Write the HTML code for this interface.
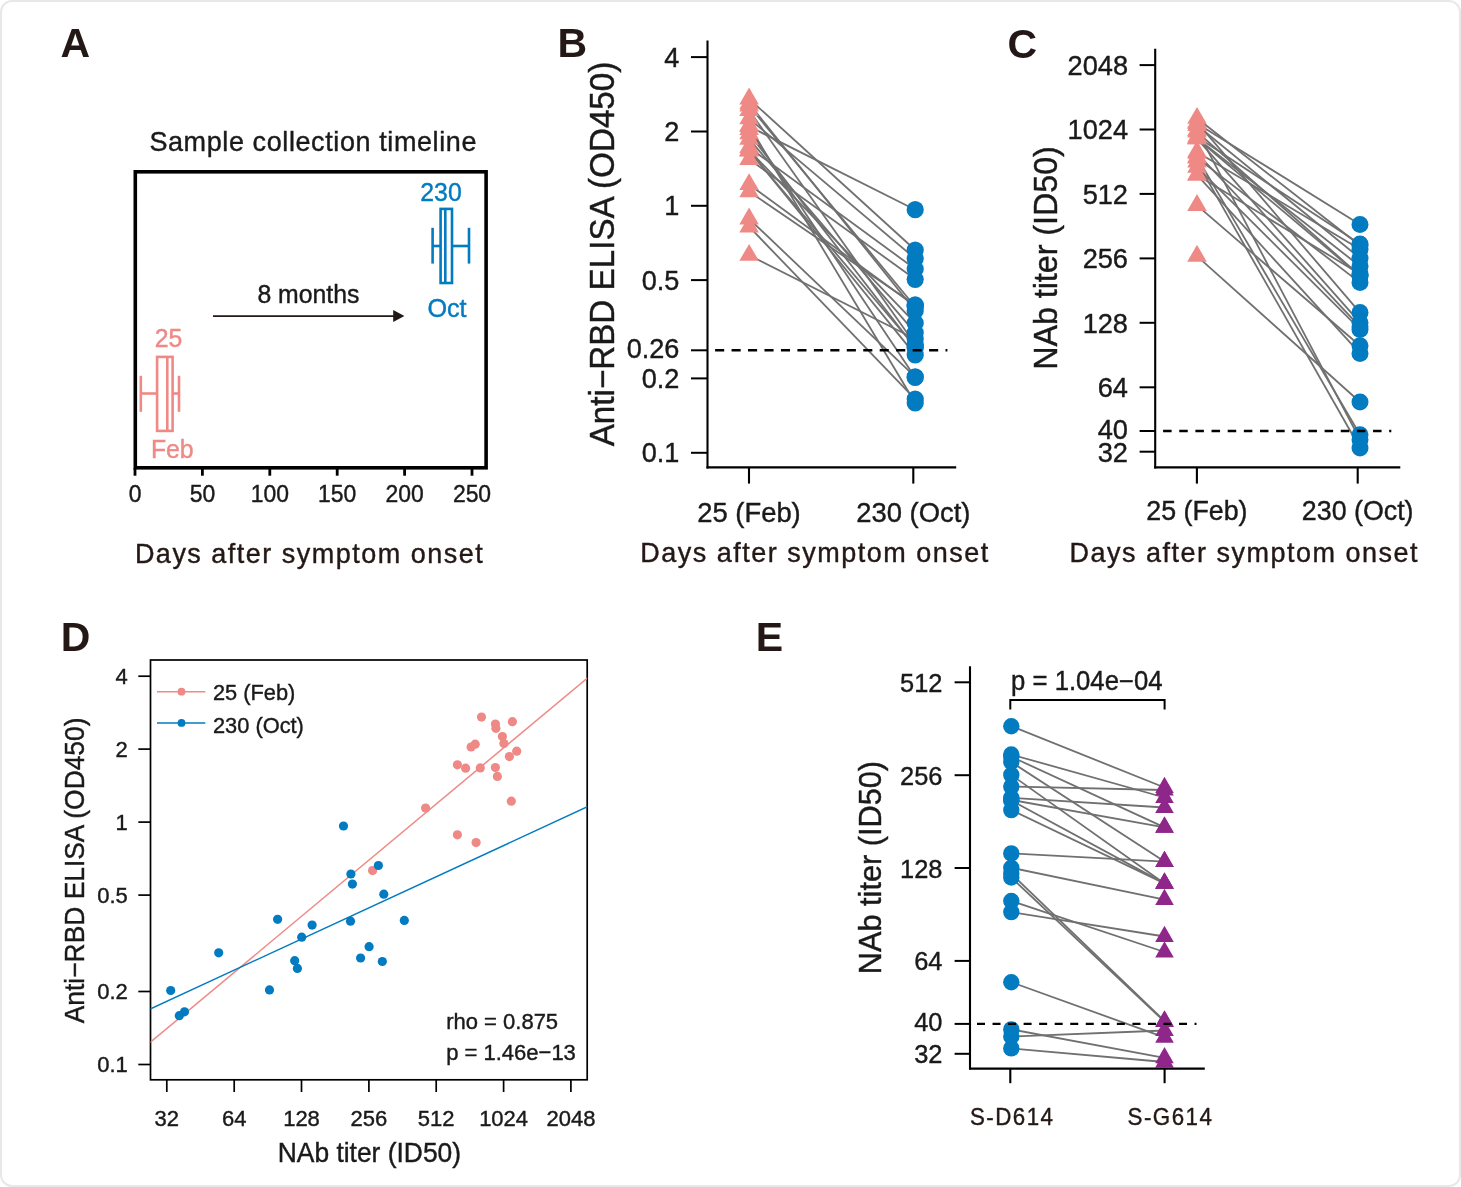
<!DOCTYPE html>
<html><head><meta charset="utf-8"><title>Figure</title>
<style>
html,body{margin:0;padding:0;background:#fff;}
svg{display:block;font-family:"Liberation Sans",sans-serif;}
</style></head><body>
<svg width="1461" height="1187" viewBox="0 0 1461 1187">
<rect x="1" y="1" width="1459" height="1185" rx="11" ry="11" fill="#fff" stroke="#e8e8e8" stroke-width="2"/>
<text transform="translate(60.6,56.9) scale(1,1.0)" font-size="41" font-weight="bold" fill="#231815">A</text>
<text transform="translate(557.6,56.8) scale(1,1.0)" font-size="41" font-weight="bold" fill="#231815">B</text>
<text transform="translate(1007.6,57.6) scale(1,1.0)" font-size="41" font-weight="bold" fill="#231815">C</text>
<text transform="translate(60.8,651.0) scale(1,1.0)" font-size="41" font-weight="bold" fill="#231815">D</text>
<text transform="translate(755.8,651.0) scale(1,1.0)" font-size="41" font-weight="bold" fill="#231815">E</text>
<rect x="135.3" y="171.8" width="350.8" height="296" fill="none" stroke="#000" stroke-width="3.6"/>
<line x1="135.0" y1="468.0" x2="135.0" y2="475.7" stroke="#000" stroke-width="2.8"/>
<text transform="translate(135.0,501.5) scale(1,1.04)" font-size="22.9" text-anchor="middle" fill="#1a1a1a" stroke="#1a1a1a" stroke-width="0.4">0</text>
<line x1="202.4" y1="468.0" x2="202.4" y2="475.7" stroke="#000" stroke-width="2.8"/>
<text transform="translate(202.4,501.5) scale(1,1.04)" font-size="22.9" text-anchor="middle" fill="#1a1a1a" stroke="#1a1a1a" stroke-width="0.4">50</text>
<line x1="269.8" y1="468.0" x2="269.8" y2="475.7" stroke="#000" stroke-width="2.8"/>
<text transform="translate(269.8,501.5) scale(1,1.04)" font-size="22.9" text-anchor="middle" fill="#1a1a1a" stroke="#1a1a1a" stroke-width="0.4">100</text>
<line x1="337.2" y1="468.0" x2="337.2" y2="475.7" stroke="#000" stroke-width="2.8"/>
<text transform="translate(337.2,501.5) scale(1,1.04)" font-size="22.9" text-anchor="middle" fill="#1a1a1a" stroke="#1a1a1a" stroke-width="0.4">150</text>
<line x1="404.6" y1="468.0" x2="404.6" y2="475.7" stroke="#000" stroke-width="2.8"/>
<text transform="translate(404.6,501.5) scale(1,1.04)" font-size="22.9" text-anchor="middle" fill="#1a1a1a" stroke="#1a1a1a" stroke-width="0.4">200</text>
<line x1="472.0" y1="468.0" x2="472.0" y2="475.7" stroke="#000" stroke-width="2.8"/>
<text transform="translate(472.0,501.5) scale(1,1.04)" font-size="22.9" text-anchor="middle" fill="#1a1a1a" stroke="#1a1a1a" stroke-width="0.4">250</text>
<text transform="translate(313.2,151.0) scale(1,1.04)" font-size="27" text-anchor="middle" letter-spacing="0.6" fill="#1a1a1a" stroke="#1a1a1a" stroke-width="0.4">Sample collection timeline</text>
<text transform="translate(309.6,562.8) scale(1,1.04)" font-size="27" text-anchor="middle" letter-spacing="1.5" fill="#231815" stroke="#231815" stroke-width="0.4">Days after symptom onset</text>
<g stroke="#027BC1" stroke-width="2.6" fill="none">
<rect x="440.6" y="208.9" width="11.4" height="74.1"/>
<line x1="445.3" y1="208.9" x2="445.3" y2="283"/>
<line x1="432.6" y1="227.8" x2="432.6" y2="263.6"/><line x1="469" y1="227.8" x2="469" y2="263.6"/>
<line x1="432.6" y1="246" x2="440.6" y2="246"/><line x1="452" y1="246" x2="469" y2="246"/>
</g>
<text transform="translate(441.0,201.0) scale(1,1.04)" font-size="24.8" text-anchor="middle" fill="#027BC1" stroke="#027BC1" stroke-width="0.4">230</text>
<text transform="translate(447.0,317.0) scale(1,1.04)" font-size="25.2" text-anchor="middle" fill="#027BC1" stroke="#027BC1" stroke-width="0.4">Oct</text>
<g stroke="#EF8985" stroke-width="2.6" fill="none">
<rect x="157.1" y="356.9" width="15.5" height="74"/>
<line x1="167.3" y1="356.9" x2="167.3" y2="431"/>
<line x1="140.8" y1="375.8" x2="140.8" y2="411.8"/><line x1="179" y1="375.8" x2="179" y2="411.8"/>
<line x1="140.8" y1="393.5" x2="157.1" y2="393.5"/><line x1="172.6" y1="393.5" x2="179" y2="393.5"/>
</g>
<text transform="translate(168.5,347.0) scale(1,1.04)" font-size="24.8" text-anchor="middle" fill="#EF8985" stroke="#EF8985" stroke-width="0.4">25</text>
<text transform="translate(172.3,457.7) scale(1,1.04)" font-size="24.8" text-anchor="middle" fill="#EF8985" stroke="#EF8985" stroke-width="0.4">Feb</text>
<line x1="213.0" y1="316.1" x2="396.0" y2="316.1" stroke="#231815" stroke-width="1.9"/>
<polygon points="404.4,316.1 393.2,310.1 393.2,322.1" fill="#231815"/>
<text transform="translate(308.4,302.6) scale(1,1.04)" font-size="24.8" text-anchor="middle" fill="#1a1a1a" stroke="#1a1a1a" stroke-width="0.4">8 months</text>
<line x1="707.5" y1="40.6" x2="707.5" y2="468.4" stroke="#000" stroke-width="2.1"/>
<line x1="706.5" y1="467.4" x2="956.2" y2="467.4" stroke="#000" stroke-width="2.1"/>
<line x1="691.0" y1="57.1" x2="707.5" y2="57.1" stroke="#000" stroke-width="2.0"/>
<text transform="translate(679.4,66.7) scale(1,1.04)" font-size="27.1" text-anchor="end" fill="#1a1a1a" stroke="#1a1a1a" stroke-width="0.4">4</text>
<line x1="691.0" y1="131.5" x2="707.5" y2="131.5" stroke="#000" stroke-width="2.0"/>
<text transform="translate(679.4,141.1) scale(1,1.04)" font-size="27.1" text-anchor="end" fill="#1a1a1a" stroke="#1a1a1a" stroke-width="0.4">2</text>
<line x1="691.0" y1="205.8" x2="707.5" y2="205.8" stroke="#000" stroke-width="2.0"/>
<text transform="translate(679.4,215.4) scale(1,1.04)" font-size="27.1" text-anchor="end" fill="#1a1a1a" stroke="#1a1a1a" stroke-width="0.4">1</text>
<line x1="691.0" y1="280.1" x2="707.5" y2="280.1" stroke="#000" stroke-width="2.0"/>
<text transform="translate(679.4,289.8) scale(1,1.04)" font-size="27.1" text-anchor="end" fill="#1a1a1a" stroke="#1a1a1a" stroke-width="0.4">0.5</text>
<line x1="691.0" y1="350.3" x2="707.5" y2="350.3" stroke="#000" stroke-width="2.0"/>
<text transform="translate(679.4,357.5) scale(1,1.04)" font-size="27.1" text-anchor="end" fill="#1a1a1a" stroke="#1a1a1a" stroke-width="0.4">0.26</text>
<line x1="691.0" y1="378.4" x2="707.5" y2="378.4" stroke="#000" stroke-width="2.0"/>
<text transform="translate(679.4,388.0) scale(1,1.04)" font-size="27.1" text-anchor="end" fill="#1a1a1a" stroke="#1a1a1a" stroke-width="0.4">0.2</text>
<line x1="691.0" y1="452.8" x2="707.5" y2="452.8" stroke="#000" stroke-width="2.0"/>
<text transform="translate(679.4,462.4) scale(1,1.04)" font-size="27.1" text-anchor="end" fill="#1a1a1a" stroke="#1a1a1a" stroke-width="0.4">0.1</text>
<line x1="749.0" y1="467.4" x2="749.0" y2="483.6" stroke="#000" stroke-width="2.1"/>
<text transform="translate(749.0,521.5) scale(1,1.04)" font-size="27.4" text-anchor="middle" fill="#1a1a1a" stroke="#1a1a1a" stroke-width="0.4">25 (Feb)</text>
<line x1="913.3" y1="467.4" x2="913.3" y2="483.6" stroke="#000" stroke-width="2.1"/>
<text transform="translate(913.3,521.5) scale(1,1.04)" font-size="27.4" text-anchor="middle" fill="#1a1a1a" stroke="#1a1a1a" stroke-width="0.4">230 (Oct)</text>
<text transform="translate(815.0,562.2) scale(1,1.04)" font-size="27" text-anchor="middle" letter-spacing="1.5" fill="#231815" stroke="#231815" stroke-width="0.4">Days after symptom onset</text>
<text transform="translate(614.2,254.0) rotate(-90) scale(1,1.04)" font-size="33.2" text-anchor="middle" fill="#1a1a1a" stroke="#1a1a1a" stroke-width="0.4">Anti−RBD ELISA (OD450)</text>
<line x1="749.1" y1="98.8" x2="915.2" y2="250.0" stroke="#707070" stroke-width="1.8"/>
<line x1="749.1" y1="105.9" x2="915.2" y2="306.8" stroke="#707070" stroke-width="1.8"/>
<line x1="749.1" y1="110.3" x2="915.2" y2="344.3" stroke="#707070" stroke-width="1.8"/>
<line x1="749.1" y1="103.5" x2="915.2" y2="310.7" stroke="#707070" stroke-width="1.8"/>
<line x1="749.1" y1="118.5" x2="915.2" y2="258.6" stroke="#707070" stroke-width="1.8"/>
<line x1="749.1" y1="125.7" x2="915.2" y2="403.0" stroke="#707070" stroke-width="1.8"/>
<line x1="749.1" y1="126.4" x2="915.2" y2="209.7" stroke="#707070" stroke-width="1.8"/>
<line x1="749.1" y1="129.2" x2="915.2" y2="377.4" stroke="#707070" stroke-width="1.8"/>
<line x1="749.1" y1="133.6" x2="915.2" y2="347.8" stroke="#707070" stroke-width="1.8"/>
<line x1="749.1" y1="139.1" x2="915.2" y2="332.8" stroke="#707070" stroke-width="1.8"/>
<line x1="749.1" y1="147.4" x2="915.2" y2="269.0" stroke="#707070" stroke-width="1.8"/>
<line x1="749.1" y1="150.9" x2="915.2" y2="347.0" stroke="#707070" stroke-width="1.8"/>
<line x1="749.1" y1="150.5" x2="915.2" y2="354.9" stroke="#707070" stroke-width="1.8"/>
<line x1="749.1" y1="150.2" x2="915.2" y2="323.1" stroke="#707070" stroke-width="1.8"/>
<line x1="749.1" y1="159.2" x2="915.2" y2="279.3" stroke="#707070" stroke-width="1.8"/>
<line x1="749.1" y1="184.5" x2="915.2" y2="306.0" stroke="#707070" stroke-width="1.8"/>
<line x1="749.1" y1="191.6" x2="915.2" y2="304.9" stroke="#707070" stroke-width="1.8"/>
<line x1="749.1" y1="218.8" x2="915.2" y2="376.8" stroke="#707070" stroke-width="1.8"/>
<line x1="749.1" y1="226.7" x2="915.2" y2="399.1" stroke="#707070" stroke-width="1.8"/>
<line x1="749.1" y1="255.2" x2="915.2" y2="339.0" stroke="#707070" stroke-width="1.8"/>
<polygon points="749.1,87.5 739.3,104.4 758.9,104.4" fill="#EF8985"/>
<polygon points="749.1,94.6 739.3,111.6 758.9,111.6" fill="#EF8985"/>
<polygon points="749.1,98.9 739.3,115.9 758.9,115.9" fill="#EF8985"/>
<polygon points="749.1,92.2 739.3,109.2 758.9,109.2" fill="#EF8985"/>
<polygon points="749.1,107.2 739.3,124.2 758.9,124.2" fill="#EF8985"/>
<polygon points="749.1,114.3 739.3,131.3 758.9,131.3" fill="#EF8985"/>
<polygon points="749.1,115.1 739.3,132.1 758.9,132.1" fill="#EF8985"/>
<polygon points="749.1,117.9 739.3,134.9 758.9,134.9" fill="#EF8985"/>
<polygon points="749.1,122.2 739.3,139.2 758.9,139.2" fill="#EF8985"/>
<polygon points="749.1,127.7 739.3,144.7 758.9,144.7" fill="#EF8985"/>
<polygon points="749.1,136.1 739.3,153.0 758.9,153.0" fill="#EF8985"/>
<polygon points="749.1,139.6 739.3,156.6 758.9,156.6" fill="#EF8985"/>
<polygon points="749.1,139.2 739.3,156.2 758.9,156.2" fill="#EF8985"/>
<polygon points="749.1,138.8 739.3,155.8 758.9,155.8" fill="#EF8985"/>
<polygon points="749.1,147.9 739.3,164.9 758.9,164.9" fill="#EF8985"/>
<polygon points="749.1,173.2 739.3,190.1 758.9,190.1" fill="#EF8985"/>
<polygon points="749.1,180.2 739.3,197.2 758.9,197.2" fill="#EF8985"/>
<polygon points="749.1,207.5 739.3,224.4 758.9,224.4" fill="#EF8985"/>
<polygon points="749.1,215.4 739.3,232.4 758.9,232.4" fill="#EF8985"/>
<polygon points="749.1,243.9 739.3,260.8 758.9,260.8" fill="#EF8985"/>
<circle cx="915.2" cy="209.7" r="8.6" fill="#027BC1"/>
<circle cx="915.2" cy="250.0" r="8.6" fill="#027BC1"/>
<circle cx="915.2" cy="258.6" r="8.6" fill="#027BC1"/>
<circle cx="915.2" cy="269.0" r="8.6" fill="#027BC1"/>
<circle cx="915.2" cy="279.3" r="8.6" fill="#027BC1"/>
<circle cx="915.2" cy="304.9" r="8.6" fill="#027BC1"/>
<circle cx="915.2" cy="306.8" r="8.6" fill="#027BC1"/>
<circle cx="915.2" cy="306.0" r="8.6" fill="#027BC1"/>
<circle cx="915.2" cy="310.7" r="8.6" fill="#027BC1"/>
<circle cx="915.2" cy="323.1" r="8.6" fill="#027BC1"/>
<circle cx="915.2" cy="332.8" r="8.6" fill="#027BC1"/>
<circle cx="915.2" cy="344.3" r="8.6" fill="#027BC1"/>
<circle cx="915.2" cy="347.8" r="8.6" fill="#027BC1"/>
<circle cx="915.2" cy="339.0" r="8.6" fill="#027BC1"/>
<circle cx="915.2" cy="347.0" r="8.6" fill="#027BC1"/>
<circle cx="915.2" cy="354.9" r="8.6" fill="#027BC1"/>
<circle cx="915.2" cy="376.8" r="8.6" fill="#027BC1"/>
<circle cx="915.2" cy="377.4" r="8.6" fill="#027BC1"/>
<circle cx="915.2" cy="399.1" r="8.6" fill="#027BC1"/>
<circle cx="915.2" cy="403.0" r="8.6" fill="#027BC1"/>
<line x1="715.1" y1="350.3" x2="947.4" y2="350.3" stroke="#000" stroke-width="2.4" stroke-dasharray="9.1,7.36"/>
<line x1="1155.2" y1="48.8" x2="1155.2" y2="468.4" stroke="#000" stroke-width="2.1"/>
<line x1="1154.2" y1="467.4" x2="1400.3" y2="467.4" stroke="#000" stroke-width="2.1"/>
<line x1="1139.6" y1="65.1" x2="1155.2" y2="65.1" stroke="#000" stroke-width="2.0"/>
<text transform="translate(1128.0,74.9) scale(1,1.04)" font-size="27.2" text-anchor="end" fill="#1a1a1a" stroke="#1a1a1a" stroke-width="0.4">2048</text>
<line x1="1139.6" y1="129.5" x2="1155.2" y2="129.5" stroke="#000" stroke-width="2.0"/>
<text transform="translate(1128.0,139.3) scale(1,1.04)" font-size="27.2" text-anchor="end" fill="#1a1a1a" stroke="#1a1a1a" stroke-width="0.4">1024</text>
<line x1="1139.6" y1="193.9" x2="1155.2" y2="193.9" stroke="#000" stroke-width="2.0"/>
<text transform="translate(1128.0,203.7) scale(1,1.04)" font-size="27.2" text-anchor="end" fill="#1a1a1a" stroke="#1a1a1a" stroke-width="0.4">512</text>
<line x1="1139.6" y1="258.4" x2="1155.2" y2="258.4" stroke="#000" stroke-width="2.0"/>
<text transform="translate(1128.0,268.2) scale(1,1.04)" font-size="27.2" text-anchor="end" fill="#1a1a1a" stroke="#1a1a1a" stroke-width="0.4">256</text>
<line x1="1139.6" y1="322.8" x2="1155.2" y2="322.8" stroke="#000" stroke-width="2.0"/>
<text transform="translate(1128.0,332.6) scale(1,1.04)" font-size="27.2" text-anchor="end" fill="#1a1a1a" stroke="#1a1a1a" stroke-width="0.4">128</text>
<line x1="1139.6" y1="387.3" x2="1155.2" y2="387.3" stroke="#000" stroke-width="2.0"/>
<text transform="translate(1128.0,397.1) scale(1,1.04)" font-size="27.2" text-anchor="end" fill="#1a1a1a" stroke="#1a1a1a" stroke-width="0.4">64</text>
<line x1="1139.6" y1="431.0" x2="1155.2" y2="431.0" stroke="#000" stroke-width="2.0"/>
<text transform="translate(1128.0,438.9) scale(1,1.04)" font-size="27.2" text-anchor="end" fill="#1a1a1a" stroke="#1a1a1a" stroke-width="0.4">40</text>
<line x1="1139.6" y1="451.7" x2="1155.2" y2="451.7" stroke="#000" stroke-width="2.0"/>
<text transform="translate(1128.0,461.5) scale(1,1.04)" font-size="27.2" text-anchor="end" fill="#1a1a1a" stroke="#1a1a1a" stroke-width="0.4">32</text>
<line x1="1196.9" y1="467.4" x2="1196.9" y2="483.6" stroke="#000" stroke-width="2.1"/>
<text transform="translate(1196.9,519.8) scale(1,1.04)" font-size="26.8" text-anchor="middle" fill="#1a1a1a" stroke="#1a1a1a" stroke-width="0.4">25 (Feb)</text>
<line x1="1357.7" y1="467.4" x2="1357.7" y2="483.6" stroke="#000" stroke-width="2.1"/>
<text transform="translate(1357.7,519.8) scale(1,1.04)" font-size="26.8" text-anchor="middle" fill="#1a1a1a" stroke="#1a1a1a" stroke-width="0.4">230 (Oct)</text>
<text transform="translate(1244.3,561.8) scale(1,1.04)" font-size="27" text-anchor="middle" letter-spacing="1.5" fill="#231815" stroke="#231815" stroke-width="0.4">Days after symptom onset</text>
<text transform="translate(1057.0,258.0) rotate(-90) scale(1,1.04)" font-size="32.2" text-anchor="middle" fill="#1a1a1a" stroke="#1a1a1a" stroke-width="0.4">NAb titer (ID50)</text>
<line x1="1197.0" y1="151.9" x2="1360.0" y2="249.3" stroke="#707070" stroke-width="1.8"/>
<line x1="1197.0" y1="138.6" x2="1360.0" y2="276.0" stroke="#707070" stroke-width="1.8"/>
<line x1="1197.0" y1="138.2" x2="1360.0" y2="266.3" stroke="#707070" stroke-width="1.8"/>
<line x1="1197.0" y1="122.3" x2="1360.0" y2="312.6" stroke="#707070" stroke-width="1.8"/>
<line x1="1197.0" y1="131.9" x2="1360.0" y2="275.6" stroke="#707070" stroke-width="1.8"/>
<line x1="1197.0" y1="130.4" x2="1360.0" y2="439.7" stroke="#707070" stroke-width="1.8"/>
<line x1="1197.0" y1="157.9" x2="1360.0" y2="282.6" stroke="#707070" stroke-width="1.8"/>
<line x1="1197.0" y1="161.9" x2="1360.0" y2="448.0" stroke="#707070" stroke-width="1.8"/>
<line x1="1197.0" y1="118.2" x2="1360.0" y2="245.5" stroke="#707070" stroke-width="1.8"/>
<line x1="1197.0" y1="125.2" x2="1360.0" y2="258.2" stroke="#707070" stroke-width="1.8"/>
<line x1="1197.0" y1="174.9" x2="1360.0" y2="274.1" stroke="#707070" stroke-width="1.8"/>
<line x1="1197.0" y1="167.1" x2="1360.0" y2="329.4" stroke="#707070" stroke-width="1.8"/>
<line x1="1197.0" y1="153.1" x2="1360.0" y2="326.8" stroke="#707070" stroke-width="1.8"/>
<line x1="1197.0" y1="138.6" x2="1360.0" y2="322.7" stroke="#707070" stroke-width="1.8"/>
<line x1="1197.0" y1="136.7" x2="1360.0" y2="244.1" stroke="#707070" stroke-width="1.8"/>
<line x1="1197.0" y1="123.4" x2="1360.0" y2="224.4" stroke="#707070" stroke-width="1.8"/>
<line x1="1197.0" y1="205.4" x2="1360.0" y2="345.7" stroke="#707070" stroke-width="1.8"/>
<line x1="1197.0" y1="174.9" x2="1360.0" y2="353.4" stroke="#707070" stroke-width="1.8"/>
<line x1="1197.0" y1="157.1" x2="1360.0" y2="434.8" stroke="#707070" stroke-width="1.8"/>
<line x1="1197.0" y1="256.1" x2="1360.0" y2="402.0" stroke="#707070" stroke-width="1.8"/>
<polygon points="1197.0,140.6 1187.2,157.6 1206.8,157.6" fill="#EF8985"/>
<polygon points="1197.0,127.2 1187.2,144.2 1206.8,144.2" fill="#EF8985"/>
<polygon points="1197.0,126.8 1187.2,143.8 1206.8,143.8" fill="#EF8985"/>
<polygon points="1197.0,111.0 1187.2,128.0 1206.8,128.0" fill="#EF8985"/>
<polygon points="1197.0,120.6 1187.2,137.6 1206.8,137.6" fill="#EF8985"/>
<polygon points="1197.0,119.1 1187.2,136.1 1206.8,136.1" fill="#EF8985"/>
<polygon points="1197.0,146.6 1187.2,163.6 1206.8,163.6" fill="#EF8985"/>
<polygon points="1197.0,150.6 1187.2,167.5 1206.8,167.5" fill="#EF8985"/>
<polygon points="1197.0,106.9 1187.2,123.8 1206.8,123.8" fill="#EF8985"/>
<polygon points="1197.0,113.9 1187.2,130.9 1206.8,130.9" fill="#EF8985"/>
<polygon points="1197.0,163.6 1187.2,180.6 1206.8,180.6" fill="#EF8985"/>
<polygon points="1197.0,155.8 1187.2,172.8 1206.8,172.8" fill="#EF8985"/>
<polygon points="1197.0,141.7 1187.2,158.7 1206.8,158.7" fill="#EF8985"/>
<polygon points="1197.0,127.2 1187.2,144.2 1206.8,144.2" fill="#EF8985"/>
<polygon points="1197.0,125.4 1187.2,142.4 1206.8,142.4" fill="#EF8985"/>
<polygon points="1197.0,112.1 1187.2,129.0 1206.8,129.0" fill="#EF8985"/>
<polygon points="1197.0,194.1 1187.2,211.1 1206.8,211.1" fill="#EF8985"/>
<polygon points="1197.0,163.6 1187.2,180.6 1206.8,180.6" fill="#EF8985"/>
<polygon points="1197.0,145.7 1187.2,162.7 1206.8,162.7" fill="#EF8985"/>
<polygon points="1197.0,244.8 1187.2,261.8 1206.8,261.8" fill="#EF8985"/>
<circle cx="1360.0" cy="282.6" r="8.5" fill="#027BC1"/>
<circle cx="1360.0" cy="249.3" r="8.5" fill="#027BC1"/>
<circle cx="1360.0" cy="275.6" r="8.5" fill="#027BC1"/>
<circle cx="1360.0" cy="274.1" r="8.5" fill="#027BC1"/>
<circle cx="1360.0" cy="244.1" r="8.5" fill="#027BC1"/>
<circle cx="1360.0" cy="345.7" r="8.5" fill="#027BC1"/>
<circle cx="1360.0" cy="276.0" r="8.5" fill="#027BC1"/>
<circle cx="1360.0" cy="224.4" r="8.5" fill="#027BC1"/>
<circle cx="1360.0" cy="312.6" r="8.5" fill="#027BC1"/>
<circle cx="1360.0" cy="322.7" r="8.5" fill="#027BC1"/>
<circle cx="1360.0" cy="258.2" r="8.5" fill="#027BC1"/>
<circle cx="1360.0" cy="266.3" r="8.5" fill="#027BC1"/>
<circle cx="1360.0" cy="245.5" r="8.5" fill="#027BC1"/>
<circle cx="1360.0" cy="402.0" r="8.5" fill="#027BC1"/>
<circle cx="1360.0" cy="329.4" r="8.5" fill="#027BC1"/>
<circle cx="1360.0" cy="326.8" r="8.5" fill="#027BC1"/>
<circle cx="1360.0" cy="353.4" r="8.5" fill="#027BC1"/>
<circle cx="1360.0" cy="448.0" r="8.5" fill="#027BC1"/>
<circle cx="1360.0" cy="434.8" r="8.5" fill="#027BC1"/>
<circle cx="1360.0" cy="439.7" r="8.5" fill="#027BC1"/>
<line x1="1163.1" y1="431.0" x2="1391.3" y2="431.0" stroke="#000" stroke-width="2.4" stroke-dasharray="8.5,7.65"/>
<rect x="150.5" y="660" width="436.7" height="419.8" fill="none" stroke="#000" stroke-width="1.7"/>
<line x1="166.8" y1="1079.8" x2="166.8" y2="1092.0" stroke="#000" stroke-width="1.7"/>
<text transform="translate(166.8,1125.6) scale(1,1.04)" font-size="22" text-anchor="middle" fill="#1a1a1a" stroke="#1a1a1a" stroke-width="0.4">32</text>
<line x1="234.2" y1="1079.8" x2="234.2" y2="1092.0" stroke="#000" stroke-width="1.7"/>
<text transform="translate(234.2,1125.6) scale(1,1.04)" font-size="22" text-anchor="middle" fill="#1a1a1a" stroke="#1a1a1a" stroke-width="0.4">64</text>
<line x1="301.5" y1="1079.8" x2="301.5" y2="1092.0" stroke="#000" stroke-width="1.7"/>
<text transform="translate(301.5,1125.6) scale(1,1.04)" font-size="22" text-anchor="middle" fill="#1a1a1a" stroke="#1a1a1a" stroke-width="0.4">128</text>
<line x1="368.9" y1="1079.8" x2="368.9" y2="1092.0" stroke="#000" stroke-width="1.7"/>
<text transform="translate(368.9,1125.6) scale(1,1.04)" font-size="22" text-anchor="middle" fill="#1a1a1a" stroke="#1a1a1a" stroke-width="0.4">256</text>
<line x1="436.2" y1="1079.8" x2="436.2" y2="1092.0" stroke="#000" stroke-width="1.7"/>
<text transform="translate(436.2,1125.6) scale(1,1.04)" font-size="22" text-anchor="middle" fill="#1a1a1a" stroke="#1a1a1a" stroke-width="0.4">512</text>
<line x1="503.6" y1="1079.8" x2="503.6" y2="1092.0" stroke="#000" stroke-width="1.7"/>
<text transform="translate(503.6,1125.6) scale(1,1.04)" font-size="22" text-anchor="middle" fill="#1a1a1a" stroke="#1a1a1a" stroke-width="0.4">1024</text>
<line x1="570.9" y1="1079.8" x2="570.9" y2="1092.0" stroke="#000" stroke-width="1.7"/>
<text transform="translate(570.9,1125.6) scale(1,1.04)" font-size="22" text-anchor="middle" fill="#1a1a1a" stroke="#1a1a1a" stroke-width="0.4">2048</text>
<line x1="138.3" y1="676.2" x2="150.5" y2="676.2" stroke="#000" stroke-width="1.7"/>
<text transform="translate(127.8,684.0) scale(1,1.04)" font-size="22" text-anchor="end" fill="#1a1a1a" stroke="#1a1a1a" stroke-width="0.4">4</text>
<line x1="138.3" y1="749.1" x2="150.5" y2="749.1" stroke="#000" stroke-width="1.7"/>
<text transform="translate(127.8,756.9) scale(1,1.04)" font-size="22" text-anchor="end" fill="#1a1a1a" stroke="#1a1a1a" stroke-width="0.4">2</text>
<line x1="138.3" y1="822.1" x2="150.5" y2="822.1" stroke="#000" stroke-width="1.7"/>
<text transform="translate(127.8,829.9) scale(1,1.04)" font-size="22" text-anchor="end" fill="#1a1a1a" stroke="#1a1a1a" stroke-width="0.4">1</text>
<line x1="138.3" y1="895.1" x2="150.5" y2="895.1" stroke="#000" stroke-width="1.7"/>
<text transform="translate(127.8,902.9) scale(1,1.04)" font-size="22" text-anchor="end" fill="#1a1a1a" stroke="#1a1a1a" stroke-width="0.4">0.5</text>
<line x1="138.3" y1="991.5" x2="150.5" y2="991.5" stroke="#000" stroke-width="1.7"/>
<text transform="translate(127.8,999.3) scale(1,1.04)" font-size="22" text-anchor="end" fill="#1a1a1a" stroke="#1a1a1a" stroke-width="0.4">0.2</text>
<line x1="138.3" y1="1064.5" x2="150.5" y2="1064.5" stroke="#000" stroke-width="1.7"/>
<text transform="translate(127.8,1072.3) scale(1,1.04)" font-size="22" text-anchor="end" fill="#1a1a1a" stroke="#1a1a1a" stroke-width="0.4">0.1</text>
<text transform="translate(369.4,1162.3) scale(1,1.04)" font-size="26.4" text-anchor="middle" fill="#1a1a1a" stroke="#1a1a1a" stroke-width="0.4">NAb titer (ID50)</text>
<text transform="translate(84.0,870.4) rotate(-90) scale(1,1.04)" font-size="26.4" text-anchor="middle" fill="#1a1a1a" stroke="#1a1a1a" stroke-width="0.4">Anti−RBD ELISA (OD450)</text>
<clipPath id="cd"><rect x="150.5" y="660" width="436.7" height="419.8"/></clipPath>
<g clip-path="url(#cd)">
<line x1="150.1" y1="1042.5" x2="588.0" y2="677.5" stroke="#EF8985" stroke-width="1.5"/>
<line x1="150.1" y1="1009.0" x2="588.0" y2="806.5" stroke="#027BC1" stroke-width="1.5"/>
</g>
<circle cx="481.5" cy="717.1" r="4.6" fill="#EF8985"/>
<circle cx="495.4" cy="724.1" r="4.6" fill="#EF8985"/>
<circle cx="495.9" cy="728.3" r="4.6" fill="#EF8985"/>
<circle cx="512.4" cy="721.7" r="4.6" fill="#EF8985"/>
<circle cx="502.4" cy="736.5" r="4.6" fill="#EF8985"/>
<circle cx="503.9" cy="743.5" r="4.6" fill="#EF8985"/>
<circle cx="475.2" cy="744.2" r="4.6" fill="#EF8985"/>
<circle cx="471.1" cy="747.0" r="4.6" fill="#EF8985"/>
<circle cx="516.7" cy="751.2" r="4.6" fill="#EF8985"/>
<circle cx="509.4" cy="756.6" r="4.6" fill="#EF8985"/>
<circle cx="457.4" cy="764.8" r="4.6" fill="#EF8985"/>
<circle cx="465.6" cy="768.2" r="4.6" fill="#EF8985"/>
<circle cx="480.3" cy="767.9" r="4.6" fill="#EF8985"/>
<circle cx="495.4" cy="767.5" r="4.6" fill="#EF8985"/>
<circle cx="497.4" cy="776.4" r="4.6" fill="#EF8985"/>
<circle cx="511.3" cy="801.2" r="4.6" fill="#EF8985"/>
<circle cx="425.6" cy="808.1" r="4.6" fill="#EF8985"/>
<circle cx="457.4" cy="834.8" r="4.6" fill="#EF8985"/>
<circle cx="476.1" cy="842.6" r="4.6" fill="#EF8985"/>
<circle cx="372.6" cy="870.6" r="4.6" fill="#EF8985"/>
<circle cx="343.5" cy="826.0" r="4.6" fill="#027BC1"/>
<circle cx="378.4" cy="865.5" r="4.6" fill="#027BC1"/>
<circle cx="350.9" cy="874.0" r="4.6" fill="#027BC1"/>
<circle cx="352.4" cy="884.1" r="4.6" fill="#027BC1"/>
<circle cx="383.8" cy="894.2" r="4.6" fill="#027BC1"/>
<circle cx="277.6" cy="919.3" r="4.6" fill="#027BC1"/>
<circle cx="350.5" cy="921.2" r="4.6" fill="#027BC1"/>
<circle cx="404.3" cy="920.4" r="4.6" fill="#027BC1"/>
<circle cx="312.1" cy="925.1" r="4.6" fill="#027BC1"/>
<circle cx="301.7" cy="937.2" r="4.6" fill="#027BC1"/>
<circle cx="369.1" cy="946.7" r="4.6" fill="#027BC1"/>
<circle cx="360.6" cy="958.0" r="4.6" fill="#027BC1"/>
<circle cx="382.3" cy="961.5" r="4.6" fill="#027BC1"/>
<circle cx="218.7" cy="952.8" r="4.6" fill="#027BC1"/>
<circle cx="294.7" cy="960.7" r="4.6" fill="#027BC1"/>
<circle cx="297.4" cy="968.4" r="4.6" fill="#027BC1"/>
<circle cx="269.5" cy="989.9" r="4.6" fill="#027BC1"/>
<circle cx="170.7" cy="990.5" r="4.6" fill="#027BC1"/>
<circle cx="184.5" cy="1011.8" r="4.6" fill="#027BC1"/>
<circle cx="179.3" cy="1015.7" r="4.6" fill="#027BC1"/>
<line x1="157.0" y1="691.7" x2="205.3" y2="691.7" stroke="#EF8985" stroke-width="1.5"/>
<circle cx="181.5" cy="691.7" r="3.9" fill="#EF8985"/>
<line x1="157.0" y1="722.9" x2="205.3" y2="722.9" stroke="#027BC1" stroke-width="1.5"/>
<circle cx="181.5" cy="722.9" r="3.9" fill="#027BC1"/>
<text transform="translate(213.0,700.3) scale(1,1.04)" font-size="21.8" fill="#1a1a1a" stroke="#1a1a1a" stroke-width="0.4">25 (Feb)</text>
<text transform="translate(213.0,732.5) scale(1,1.04)" font-size="21.8" fill="#1a1a1a" stroke="#1a1a1a" stroke-width="0.4">230 (Oct)</text>
<text transform="translate(446.2,1028.7) scale(1,1.04)" font-size="22" fill="#1a1a1a" stroke="#1a1a1a" stroke-width="0.4">rho = 0.875</text>
<text transform="translate(446.2,1060.3) scale(1,1.04)" font-size="22" fill="#1a1a1a" stroke="#1a1a1a" stroke-width="0.4">p = 1.46e−13</text>
<text transform="translate(881.4,867.6) rotate(-90) scale(1,1.04)" font-size="30.7" text-anchor="middle" fill="#1a1a1a" stroke="#1a1a1a" stroke-width="0.4">NAb titer (ID50)</text>
<text transform="translate(1086.8,689.6) scale(1,1.04)" font-size="25.7" text-anchor="middle" fill="#1a1a1a" stroke="#1a1a1a" stroke-width="0.4">p = 1.04e−04</text>
<polyline points="1010.3,709.5 1010.3,700 1164.6,700 1164.6,709.5" fill="none" stroke="#000" stroke-width="2"/>
<line x1="1011.3" y1="726.2" x2="1164.5" y2="787.5" stroke="#707070" stroke-width="1.8"/>
<line x1="1011.3" y1="754.5" x2="1164.5" y2="797.5" stroke="#707070" stroke-width="1.8"/>
<line x1="1011.3" y1="756.7" x2="1164.5" y2="827.4" stroke="#707070" stroke-width="1.8"/>
<line x1="1011.3" y1="762.0" x2="1164.5" y2="861.6" stroke="#707070" stroke-width="1.8"/>
<line x1="1011.3" y1="774.9" x2="1164.5" y2="883.4" stroke="#707070" stroke-width="1.8"/>
<line x1="1011.3" y1="786.6" x2="1164.5" y2="790.0" stroke="#707070" stroke-width="1.8"/>
<line x1="1011.3" y1="797.8" x2="1164.5" y2="807.5" stroke="#707070" stroke-width="1.8"/>
<line x1="1011.3" y1="799.9" x2="1164.5" y2="827.4" stroke="#707070" stroke-width="1.8"/>
<line x1="1011.3" y1="800.5" x2="1164.5" y2="883.4" stroke="#707070" stroke-width="1.8"/>
<line x1="1011.3" y1="810.1" x2="1164.5" y2="883.4" stroke="#707070" stroke-width="1.8"/>
<line x1="1011.3" y1="853.4" x2="1164.5" y2="861.6" stroke="#707070" stroke-width="1.8"/>
<line x1="1011.3" y1="867.8" x2="1164.5" y2="899.6" stroke="#707070" stroke-width="1.8"/>
<line x1="1011.3" y1="873.7" x2="1164.5" y2="1021.0" stroke="#707070" stroke-width="1.8"/>
<line x1="1011.3" y1="877.5" x2="1164.5" y2="1021.6" stroke="#707070" stroke-width="1.8"/>
<line x1="1011.3" y1="901.0" x2="1164.5" y2="952.0" stroke="#707070" stroke-width="1.8"/>
<line x1="1011.3" y1="912.1" x2="1164.5" y2="936.5" stroke="#707070" stroke-width="1.8"/>
<line x1="1011.3" y1="982.2" x2="1164.5" y2="1037.4" stroke="#707070" stroke-width="1.8"/>
<line x1="1011.3" y1="1029.4" x2="1164.5" y2="1057.8" stroke="#707070" stroke-width="1.8"/>
<line x1="1011.3" y1="1036.5" x2="1164.5" y2="1030.5" stroke="#707070" stroke-width="1.8"/>
<line x1="1011.3" y1="1048.4" x2="1164.5" y2="1062.0" stroke="#707070" stroke-width="1.8"/>
<circle cx="1011.3" cy="726.2" r="8.2" fill="#027BC1"/>
<circle cx="1011.3" cy="754.5" r="8.2" fill="#027BC1"/>
<circle cx="1011.3" cy="756.7" r="8.2" fill="#027BC1"/>
<circle cx="1011.3" cy="762.0" r="8.2" fill="#027BC1"/>
<circle cx="1011.3" cy="774.9" r="8.2" fill="#027BC1"/>
<circle cx="1011.3" cy="786.6" r="8.2" fill="#027BC1"/>
<circle cx="1011.3" cy="797.8" r="8.2" fill="#027BC1"/>
<circle cx="1011.3" cy="799.9" r="8.2" fill="#027BC1"/>
<circle cx="1011.3" cy="800.5" r="8.2" fill="#027BC1"/>
<circle cx="1011.3" cy="810.1" r="8.2" fill="#027BC1"/>
<circle cx="1011.3" cy="853.4" r="8.2" fill="#027BC1"/>
<circle cx="1011.3" cy="867.8" r="8.2" fill="#027BC1"/>
<circle cx="1011.3" cy="873.7" r="8.2" fill="#027BC1"/>
<circle cx="1011.3" cy="877.5" r="8.2" fill="#027BC1"/>
<circle cx="1011.3" cy="901.0" r="8.2" fill="#027BC1"/>
<circle cx="1011.3" cy="912.1" r="8.2" fill="#027BC1"/>
<circle cx="1011.3" cy="982.2" r="8.2" fill="#027BC1"/>
<circle cx="1011.3" cy="1029.4" r="8.2" fill="#027BC1"/>
<circle cx="1011.3" cy="1036.5" r="8.2" fill="#027BC1"/>
<circle cx="1011.3" cy="1048.4" r="8.2" fill="#027BC1"/>
<polygon points="1164.5,776.7 1155.2,792.9 1173.8,792.9" fill="#8F278B"/>
<polygon points="1164.5,786.7 1155.2,802.9 1173.8,802.9" fill="#8F278B"/>
<polygon points="1164.5,816.6 1155.2,832.8 1173.8,832.8" fill="#8F278B"/>
<polygon points="1164.5,850.8 1155.2,867.0 1173.8,867.0" fill="#8F278B"/>
<polygon points="1164.5,872.6 1155.2,888.8 1173.8,888.8" fill="#8F278B"/>
<polygon points="1164.5,779.2 1155.2,795.4 1173.8,795.4" fill="#8F278B"/>
<polygon points="1164.5,796.7 1155.2,812.9 1173.8,812.9" fill="#8F278B"/>
<polygon points="1164.5,816.6 1155.2,832.8 1173.8,832.8" fill="#8F278B"/>
<polygon points="1164.5,872.6 1155.2,888.8 1173.8,888.8" fill="#8F278B"/>
<polygon points="1164.5,872.6 1155.2,888.8 1173.8,888.8" fill="#8F278B"/>
<polygon points="1164.5,850.8 1155.2,867.0 1173.8,867.0" fill="#8F278B"/>
<polygon points="1164.5,888.8 1155.2,905.0 1173.8,905.0" fill="#8F278B"/>
<polygon points="1164.5,1010.2 1155.2,1026.4 1173.8,1026.4" fill="#8F278B"/>
<polygon points="1164.5,1010.8 1155.2,1027.0 1173.8,1027.0" fill="#8F278B"/>
<polygon points="1164.5,941.2 1155.2,957.4 1173.8,957.4" fill="#8F278B"/>
<polygon points="1164.5,925.7 1155.2,941.9 1173.8,941.9" fill="#8F278B"/>
<polygon points="1164.5,1026.6 1155.2,1042.8 1173.8,1042.8" fill="#8F278B"/>
<polygon points="1164.5,1047.0 1155.2,1063.2 1173.8,1063.2" fill="#8F278B"/>
<polygon points="1164.5,1019.7 1155.2,1035.9 1173.8,1035.9" fill="#8F278B"/>
<polygon points="1164.5,1051.2 1155.2,1067.4 1173.8,1067.4" fill="#8F278B"/>
<line x1="977.0" y1="1023.9" x2="1196.5" y2="1023.9" stroke="#000" stroke-width="2.3" stroke-dasharray="8,7.54"/>
<line x1="970.0" y1="666.3" x2="970.0" y2="1069.6" stroke="#000" stroke-width="2.1"/>
<line x1="969.0" y1="1068.6" x2="1204.8" y2="1068.6" stroke="#000" stroke-width="2.1"/>
<line x1="954.6" y1="682.3" x2="970.0" y2="682.3" stroke="#000" stroke-width="2.0"/>
<text transform="translate(942.5,691.8) scale(1,1.04)" font-size="25.4" text-anchor="end" fill="#1a1a1a" stroke="#1a1a1a" stroke-width="0.4">512</text>
<line x1="954.6" y1="775.2" x2="970.0" y2="775.2" stroke="#000" stroke-width="2.0"/>
<text transform="translate(942.5,784.7) scale(1,1.04)" font-size="25.4" text-anchor="end" fill="#1a1a1a" stroke="#1a1a1a" stroke-width="0.4">256</text>
<line x1="954.6" y1="868.0" x2="970.0" y2="868.0" stroke="#000" stroke-width="2.0"/>
<text transform="translate(942.5,877.5) scale(1,1.04)" font-size="25.4" text-anchor="end" fill="#1a1a1a" stroke="#1a1a1a" stroke-width="0.4">128</text>
<line x1="954.6" y1="960.9" x2="970.0" y2="960.9" stroke="#000" stroke-width="2.0"/>
<text transform="translate(942.5,970.4) scale(1,1.04)" font-size="25.4" text-anchor="end" fill="#1a1a1a" stroke="#1a1a1a" stroke-width="0.4">64</text>
<line x1="954.6" y1="1023.9" x2="970.0" y2="1023.9" stroke="#000" stroke-width="2.0"/>
<text transform="translate(942.5,1031.3) scale(1,1.04)" font-size="25.4" text-anchor="end" fill="#1a1a1a" stroke="#1a1a1a" stroke-width="0.4">40</text>
<line x1="954.6" y1="1053.8" x2="970.0" y2="1053.8" stroke="#000" stroke-width="2.0"/>
<text transform="translate(942.5,1063.3) scale(1,1.04)" font-size="25.4" text-anchor="end" fill="#1a1a1a" stroke="#1a1a1a" stroke-width="0.4">32</text>
<line x1="1010.3" y1="1068.6" x2="1010.3" y2="1083.2" stroke="#000" stroke-width="2.1"/>
<text transform="translate(1012.2,1125.3) scale(1,1.04)" font-size="22.3" text-anchor="middle" letter-spacing="1.5" fill="#231815" stroke="#231815" stroke-width="0.4">S-D614</text>
<line x1="1164.6" y1="1068.6" x2="1164.6" y2="1083.2" stroke="#000" stroke-width="2.1"/>
<text transform="translate(1170.5,1125.3) scale(1,1.04)" font-size="22.3" text-anchor="middle" letter-spacing="1.5" fill="#231815" stroke="#231815" stroke-width="0.4">S-G614</text>
</svg>
</body></html>
